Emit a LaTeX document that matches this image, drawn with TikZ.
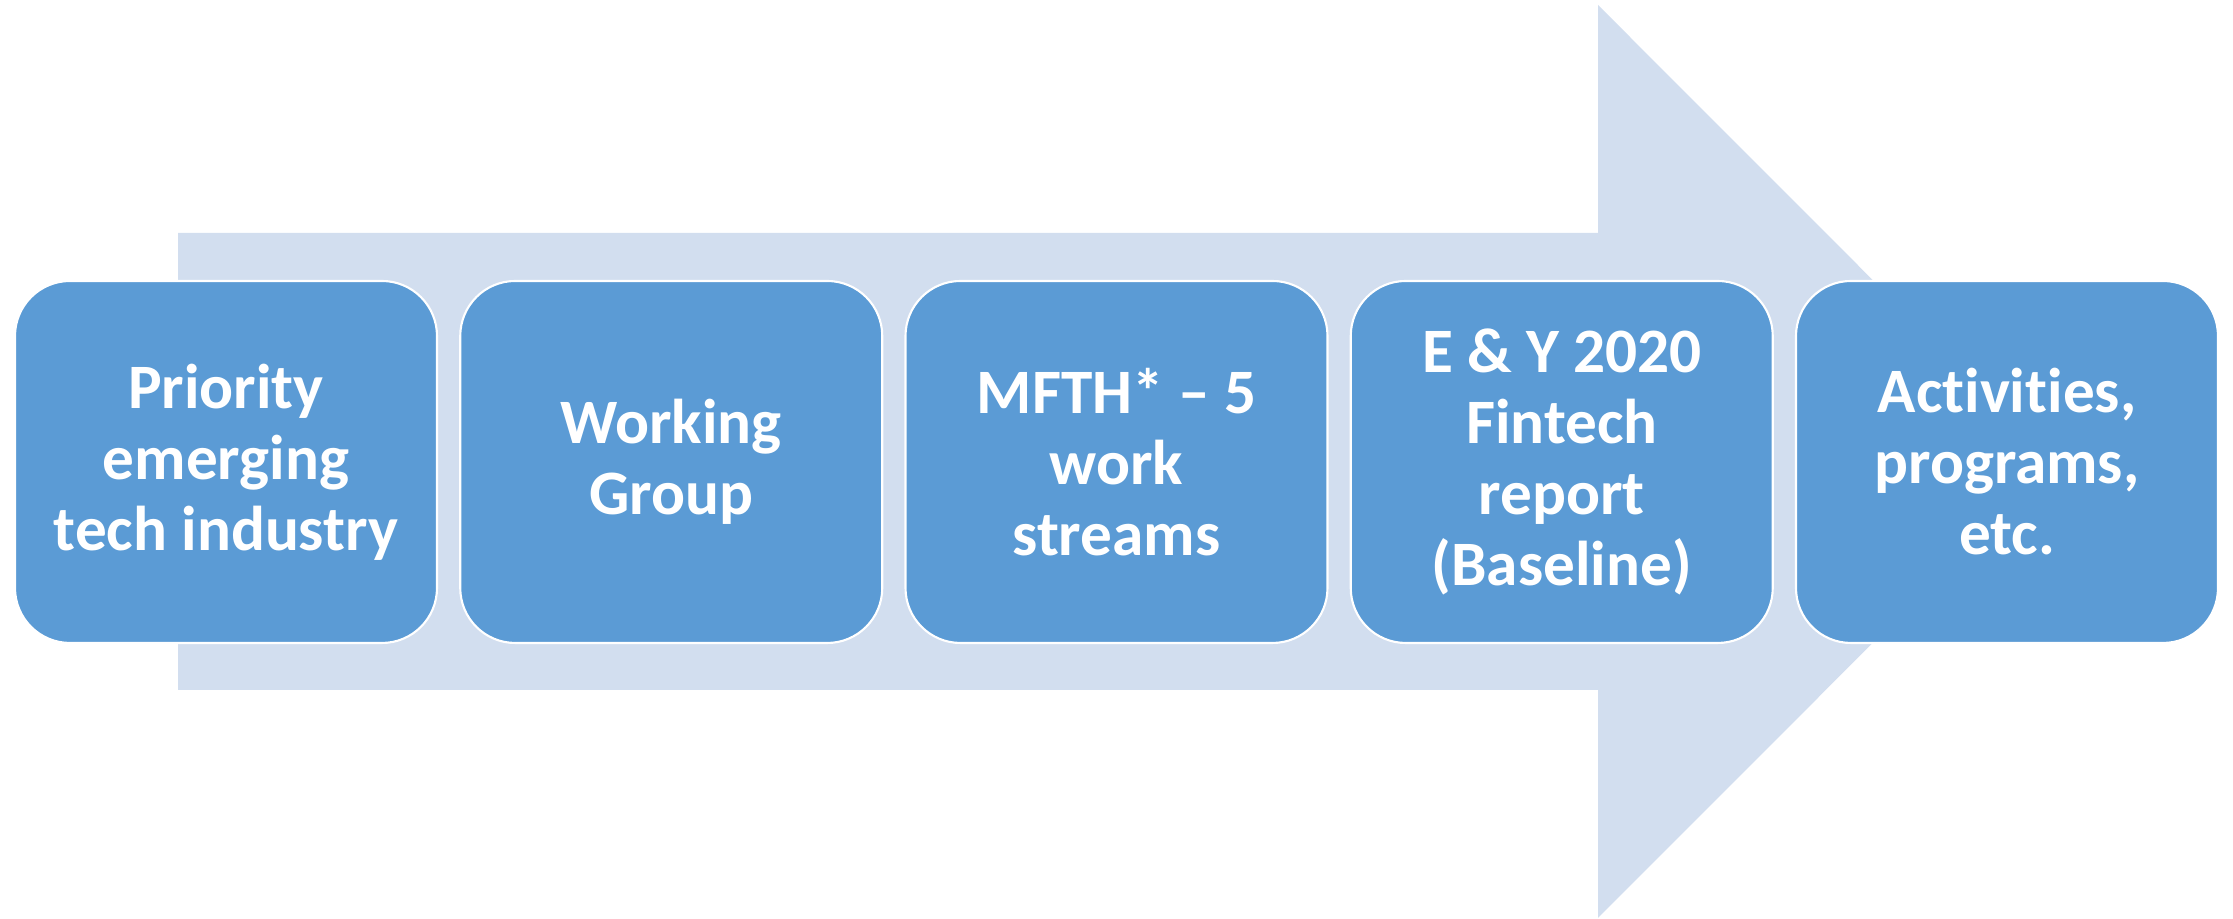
\documentclass[tikz,border=0pt]{standalone}
\usepackage{fontspec}
\setmainfont{Carlito}[Ligatures=NoCommon]
\definecolor{boxblue}{HTML}{5B9BD5}
\definecolor{arrowblue}{HTML}{D2DEEF}
\begin{document}
\begin{tikzpicture}[
  stepbox/.style={draw=white, line width=0.6pt, fill=boxblue, rounded corners=0.55cm,
    minimum width=4.22cm, minimum height=3.62cm, inner sep=0pt,
    text=white, align=center,
    font=\fontsize{18}{20.2}\selectfont\bfseries},
  bigarrow/.style={fill=arrowblue, draw=none}
]
\useasboundingbox (0,0) rectangle (22.33,9.19);
\fill[bigarrow] (1.78,6.86) -- (15.98,6.86) -- (15.98,9.14) -- (20.54,4.575)
  -- (15.98,0.01) -- (15.98,2.29) -- (1.78,2.29) -- cycle;
\node[stepbox] (b1) at (2.26,4.57) {Priority\\emerging\\tech industry};
\node[stepbox] (b2) at (6.7125,4.57) {Working\\Group};
\node[stepbox] (b3) at (11.165,4.57) {MFTH* – 5\\work\\streams};
\node[stepbox] (b4) at (15.6175,4.57) {E \& Y 2020\\Fintech\\report\\(Baseline)};
\node[stepbox] (b5) at (20.07,4.57) {Activities,\\programs,\\etc.};
\end{tikzpicture}
\end{document}
